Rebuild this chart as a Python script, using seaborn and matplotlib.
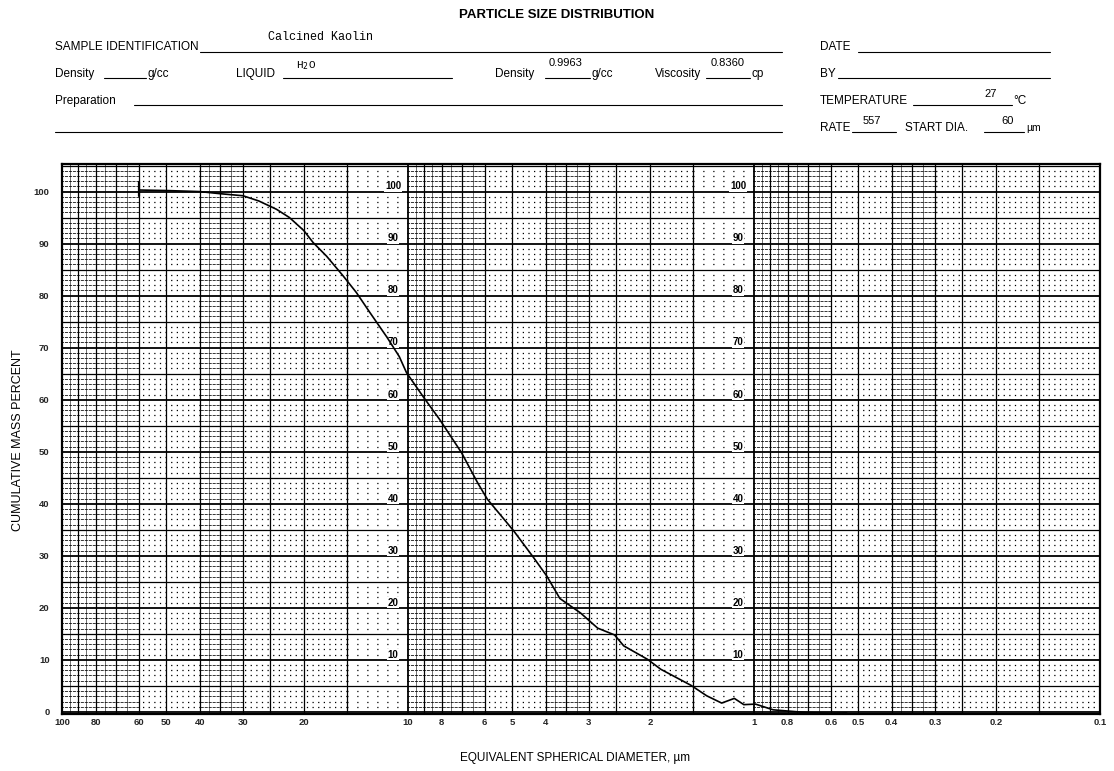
import numpy as np
import pandas as pd
import matplotlib
matplotlib.use("Agg")
import matplotlib.pyplot as plt
from matplotlib.lines import Line2D
import seaborn as sns

# ---------------- data ----------------
diameter_um = [60, 50, 40, 35, 30, 27, 24, 22, 20, 18.8,
               17.2, 15.4, 14.1, 12.9, 11.5, 10.6, 10.1, 9.0, 8.1, 7.0,
               6.3, 5.9, 4.95, 4.34, 3.97, 3.64, 3.17, 2.83, 2.53, 2.38,
               2.03, 1.86, 1.52, 1.37, 1.24, 1.14, 1.07, 0.99, 0.88, 0.71,
               0.60, 0.54]
cum_mass_pct = [100.3, 100.2, 100.0, 99.6, 99.2, 98.2, 96.6, 95.0, 92.5, 90.2,
                87.6, 83.8, 80.6, 76.8, 72.0, 68.3, 65.2, 60.4, 56.2, 49.8,
                44.1, 40.9, 34.8, 29.7, 26.1, 21.8, 19.0, 16.1, 14.8, 12.7,
                10.1, 8.2, 5.1, 3.1, 1.7, 2.6, 1.4, 1.5, 0.4, -0.1,
                -0.3, -0.2]

x_ticks = [100, 80, 60, 50, 40, 30, 20, 10, 8, 6, 5, 4, 3, 2, 1,
           0.8, 0.6, 0.5, 0.4, 0.3, 0.2, 0.1]
x_tick_labels = ["100", "80", "60", "50", "40", "30", "20", "10", "8", "6", "5",
                 "4", "3", "2", "1", "0.8", "0.6", "0.5", "0.4", "0.3", "0.2", "0.1"]
y_ticks = [0, 10, 20, 30, 40, 50, 60, 70, 80, 90, 100]
y_tick_labels = ["0", "10", "20", "30", "40", "50", "60", "70", "80", "90", "100"]
inner_labels = ["10", "20", "30", "40", "50", "60", "70", "80", "90", "100"]

# ---------------- figure ----------------
sns.set_theme(style="white")
plt.rcParams['font.family'] = ['Liberation Sans', 'DejaVu Sans']

W, H = 1114, 771
fig = plt.figure(figsize=(W / 100, H / 100), dpi=100)
fig.patch.set_facecolor("white")

left_px, right_px, top_px, bottom_px = 62, 1100, 164, 714
ax = fig.add_axes([left_px / W, 1 - bottom_px / H,
                   (right_px - left_px) / W, (bottom_px - top_px) / H])

ax.set_xscale("log")
ax.set_xlim(100, 0.1)
ax.set_ylim(-0.4, 105.3)
ax.set_facecolor("white")

# ----- chart-paper grid -----
vmajor = [100, 90, 80, 70, 60, 50, 40, 35, 30, 25, 20, 15, 10, 9, 8, 7, 6, 5, 4,
          3.5, 3, 2.5, 2, 1.5, 1, 0.9, 0.8, 0.7, 0.6, 0.5, 0.4, 0.35, 0.3, 0.25,
          0.2, 0.15, 0.1]
for v in vmajor:
    lw = 1.3 if v in (100, 10, 1, 0.1) else 0.9
    ax.axvline(v, color="black", lw=lw, zorder=1)
# thin extra lines inside dense columns
for dec in (10, 1, 0.1):
    for v in (9.5, 8.5, 7.5, 6.5, 3.75, 3.25):
        ax.axvline(v * dec, color="black", lw=0.4, zorder=1)

for yv in range(0, 106, 5):
    ax.axhline(yv, color="black", lw=1.3 if yv % 10 == 0 else 0.9, zorder=1)

minor_y = [k for k in range(1, 106) if k % 5 != 0]
columns = []
for dec in (10, 1):
    columns += [(6 * dec, 10 * dec, "dense"), (4 * dec, 6 * dec, "dot"),
                (3 * dec, 4 * dec, "dense"), (1.5 * dec, 3 * dec, "dot"),
                (1.0 * dec, 1.5 * dec, "white")]
columns += [(0.6, 1.0, "dense"), (0.4, 0.6, "dot"), (0.3, 0.4, "dense"),
            (0.1, 0.3, "dot")]
for lo, hi, kind in columns:
    if kind == "dense":
        ax.hlines(minor_y, lo, hi, colors="black", lw=0.55,
                  linestyles=(0, (4, 1.2)), zorder=1)
    elif kind == "dot":
        ax.hlines(minor_y, lo, hi, colors="black", lw=0.9,
                  linestyles=(0, (1, 3.5)), zorder=1)
    else:
        ax.hlines(minor_y, lo, hi, colors="black", lw=0.9,
                  linestyles=(0, (1, 7)), zorder=1)

# inner repeated percent labels
for lab, yv in zip(inner_labels, y_ticks[1:]):
    for xv in (11.05, 1.112):
        ax.text(xv, yv + 1.0, lab, ha="center", va="center", fontsize=7,
                fontweight="bold", color="black", zorder=3,
                bbox=dict(boxstyle="square,pad=0.05", fc="white", ec="none"))

# ----- the measured curve -----
df = pd.DataFrame({"diameter": diameter_um, "cum": cum_mass_pct})
sns.lineplot(data=df, x="diameter", y="cum", ax=ax, color="black", lw=1.2,
             sort=False, estimator=None, zorder=4, clip_on=False)
ax.plot([diameter_um[0]] * 2, [99.2, 101.8], color="black", lw=1.6, zorder=4)

ax.set_xticks(x_ticks)
ax.set_xticklabels(x_tick_labels, fontsize=6.8, fontweight="bold")
ax.xaxis.set_minor_locator(matplotlib.ticker.NullLocator())
ax.set_yticks(y_ticks)
ax.set_yticklabels(y_tick_labels, fontsize=6.8, fontweight="bold")
ax.tick_params(axis="both", length=0)
ax.tick_params(axis="x", pad=3)
ax.tick_params(axis="y", pad=9)
ax.set_xlabel("")
ax.set_ylabel("")
for s in ax.spines.values():
    s.set_visible(True)
    s.set_color("black")
    s.set_linewidth(1.6)

# ---------------- form header ----------------
def ftext(x, y, s, **kw):
    kw.setdefault("fontsize", 8.5)
    kw.setdefault("va", "baseline")
    fig.text(x / W, 1 - y / H, s, color="black", **kw)

def fline(x0, x1, y, lw=0.8):
    fig.add_artist(Line2D([x0 / W, x1 / W], [1 - y / H, 1 - y / H],
                          transform=fig.transFigure, color="black", lw=lw))

ftext(557, 18, "PARTICLE SIZE DISTRIBUTION", ha="center", fontsize=9.5,
      fontweight="bold")

ftext(55, 50, "SAMPLE IDENTIFICATION")
fline(200, 782, 52)
ftext(320, 40, "Calcined Kaolin", ha="center", fontsize=8.5,
      family=["Liberation Mono", "DejaVu Sans Mono"])

ftext(55, 77, "Density")
fline(104, 146, 78)
ftext(147, 77, "g/cc")
ftext(236, 77, "LIQUID")
fline(283, 452, 78)
ftext(296, 68, "H$_2$O", fontsize=8, family=["Liberation Mono", "DejaVu Sans Mono"])
ftext(495, 77, "Density")
fline(545, 590, 78)
ftext(566, 66, "0.9963", ha="center", fontsize=8)
ftext(592, 77, "g/cc")
ftext(655, 77, "Viscosity")
fline(706, 750, 78)
ftext(728, 66, "0.8360", ha="center", fontsize=8)
ftext(752, 77, "cp")

ftext(55, 104, "Preparation")
fline(134, 782, 105)
fline(55, 782, 132)

ftext(820, 50, "DATE")
fline(858, 1050, 52)
ftext(820, 77, "BY")
fline(838, 1050, 78)
ftext(820, 104, "TEMPERATURE")
fline(913, 1012, 105)
ftext(991, 97, "27", ha="center", fontsize=8)
ftext(1013, 104, "°C")
ftext(820, 131, "RATE")
fline(852, 896, 132)
ftext(872, 124, "557", ha="center", fontsize=8)
ftext(905, 131, "START DIA.")
fline(984, 1024, 132)
ftext(1008, 124, "60", ha="center", fontsize=8)
ftext(1026, 131, "µm", fontsize=7.5)

# axis titles
fig.text(18 / W, 1 - 440 / H, "CUMULATIVE MASS PERCENT", rotation=90,
         ha="center", va="center", fontsize=9, color="black")
ftext(575, 761, "EQUIVALENT SPHERICAL DIAMETER, µm", ha="center", fontsize=8.5)

fig.savefig("out.png", dpi=100, facecolor="white")
